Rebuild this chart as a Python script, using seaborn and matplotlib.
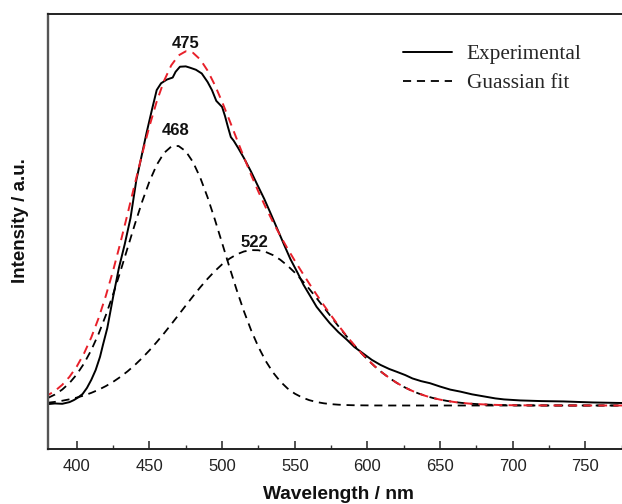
import numpy as np
import pandas as pd
import matplotlib
matplotlib.use("Agg")
import matplotlib.pyplot as plt
import seaborn as sns
from matplotlib.ticker import MultipleLocator

# Measured emission spectrum
wavelength_exp = [380, 385, 390, 395, 398, 401, 404, 407, 410, 413, 416, 418, 421,
                  425, 429, 433, 437, 441, 444, 448, 452, 455, 458, 462, 466, 468,
                  471, 475, 478, 482, 486, 490, 493, 496, 500, 502, 504, 506, 508,
                  511, 515, 520, 524, 529, 533, 538, 543, 547, 552, 556, 561, 565,
                  570, 574, 580, 586, 591, 597, 603, 609, 615, 620, 626, 631, 637,
                  643, 650, 657, 664, 672, 680, 688, 694, 705, 720, 735, 755, 780]
intensity_exp = [0.004, 0.006, 0.005, 0.010, 0.016, 0.024, 0.034, 0.052, 0.076, 0.105,
                 0.144, 0.179, 0.229, 0.321, 0.407, 0.477, 0.555, 0.667, 0.726, 0.806,
                 0.880, 0.933, 0.953, 0.964, 0.970, 0.987, 1.002, 1.003, 0.999, 0.993,
                 0.982, 0.957, 0.933, 0.901, 0.883, 0.856, 0.824, 0.794, 0.783, 0.762,
                 0.732, 0.691, 0.655, 0.611, 0.572, 0.522, 0.472, 0.433, 0.392, 0.357,
                 0.321, 0.292, 0.265, 0.244, 0.217, 0.194, 0.173, 0.154, 0.135, 0.120,
                 0.108, 0.100, 0.090, 0.080, 0.072, 0.066, 0.056, 0.047, 0.041, 0.033,
                 0.027, 0.021, 0.018, 0.015, 0.013, 0.012, 0.009, 0.007]

# Gaussian components of the fit (centres 468 nm and 522 nm), sampled every 5 nm
wavelength_fit = list(range(380, 781, 5))
peak_468 = [0.0220, 0.0325, 0.0471, 0.0666, 0.0920, 0.1243, 0.1641, 0.2117, 0.2670,
            0.3290, 0.3963, 0.4664, 0.5365, 0.6032, 0.6627, 0.7116, 0.7467, 0.7658,
            0.7676, 0.7519, 0.7198, 0.6734, 0.6158, 0.5503, 0.4805, 0.4102, 0.3421,
            0.2789, 0.2222, 0.1730, 0.1317, 0.0979, 0.0712, 0.0505, 0.0351, 0.0238,
            0.0158, 0.0102, 0.0065, 0.0040, 0.0024, 0.0014, 0.0008, 0.0005, 0.0003,
            0.0001, 0.0001] + [0.0] * 34
peak_522 = [0.0082, 0.0107, 0.0141, 0.0183, 0.0234, 0.0297, 0.0374, 0.0466, 0.0574,
            0.0700, 0.0846, 0.1012, 0.1199, 0.1406, 0.1631, 0.1875, 0.2132, 0.2402,
            0.2678, 0.2957, 0.3232, 0.3498, 0.3748, 0.3975, 0.4176, 0.4341, 0.4469,
            0.4555, 0.4596, 0.4592, 0.4542, 0.4448, 0.4312, 0.4137, 0.3932, 0.3700,
            0.3446, 0.3177, 0.2901, 0.2623, 0.2347, 0.2079, 0.1825, 0.1584, 0.1363,
            0.1159, 0.0977, 0.0816, 0.0674, 0.0551, 0.0447, 0.0358, 0.0284, 0.0223,
            0.0174, 0.0134, 0.0102, 0.0077, 0.0057, 0.0043, 0.0032, 0.0022, 0.0016,
            0.0011, 0.0008, 0.0006, 0.0004, 0.0003, 0.0002, 0.0001, 0.0001] + [0.0] * 10

peak_labels = ["475", "468", "522"]
label_x = [475, 468, 522]
label_y = [1.057, 0.800, 0.470]

exp_df = pd.DataFrame({"wavelength": wavelength_exp, "intensity": intensity_exp})
fit_df = pd.DataFrame({"wavelength": wavelength_fit, "p1": peak_468, "p2": peak_522})
fit_df["total"] = fit_df["p1"] + fit_df["p2"]

sns.set_theme(style="white")
plt.rcParams["font.family"] = ["Liberation Sans", "DejaVu Sans"]

fig = plt.figure(figsize=(6.22, 5.04), dpi=100)
ax = fig.add_axes([0.0767, 0.1091, 0.9346, 0.8625])

dash = (0, (4.5, 3.2))
sns.lineplot(data=exp_df, x="wavelength", y="intensity", ax=ax, color="black",
             lw=1.4, sort=False, errorbar=None)
sns.lineplot(data=fit_df, x="wavelength", y="p1", ax=ax, color="black",
             lw=1.3, linestyle=dash, sort=False, errorbar=None)
sns.lineplot(data=fit_df, x="wavelength", y="p2", ax=ax, color="black",
             lw=1.3, linestyle=dash, sort=False, errorbar=None)
sns.lineplot(data=fit_df, x="wavelength", y="total", ax=ax, color="#e8202a",
             lw=1.4, linestyle=(2, (4.5, 3.2)), sort=False, errorbar=None)

for txt, xv, yv in zip(peak_labels, label_x, label_y):
    ax.text(xv, yv, txt, ha="center", va="baseline", fontsize=12,
            fontweight="bold", color="#111111")

ax.set_xlim(380, 780)
ax.set_ylim(-0.1287, 1.157)
ax.xaxis.set_major_locator(MultipleLocator(50))
ax.xaxis.set_minor_locator(MultipleLocator(25))
ax.set_yticks([])
ax.tick_params(axis="x", which="major", direction="in", length=6, width=1.2,
               color="#333333", labelsize=12, labelcolor="#222222", pad=7,
               bottom=True, top=False)
ax.tick_params(axis="x", which="minor", direction="in", length=3, width=1.0,
               color="#333333", bottom=True, top=False)

for side in ["top", "bottom"]:
    ax.spines[side].set_color("#222222")
    ax.spines[side].set_linewidth(1.4)
ax.spines["left"].set_color("#555555")
ax.spines["left"].set_linewidth(1.7)
ax.spines["right"].set_visible(False)

ax.set_xlabel("Wavelength / nm", fontsize=13.8, fontweight="bold", color="#111111")
ax.set_ylabel("Intensity / a.u.", fontsize=13.5, fontweight="bold", color="#111111")
ax.yaxis.set_label_coords(-0.032, 0.5245)
ax.xaxis.set_label_coords(0.5, -0.085)

lines = ax.get_lines()
leg = ax.legend([lines[0], lines[1]], ["Experimental", "Guassian fit"],
                loc="upper left", bbox_to_anchor=(0.6474, 0.912),
                bbox_transform=fig.transFigure, frameon=False, borderpad=0,
                borderaxespad=0, handlelength=2.3, handletextpad=0.72,
                labelspacing=0.42,
                prop={"family": ["Liberation Serif", "DejaVu Serif"], "size": 15.3})

fig.savefig("out.png", dpi=100, facecolor="white")
